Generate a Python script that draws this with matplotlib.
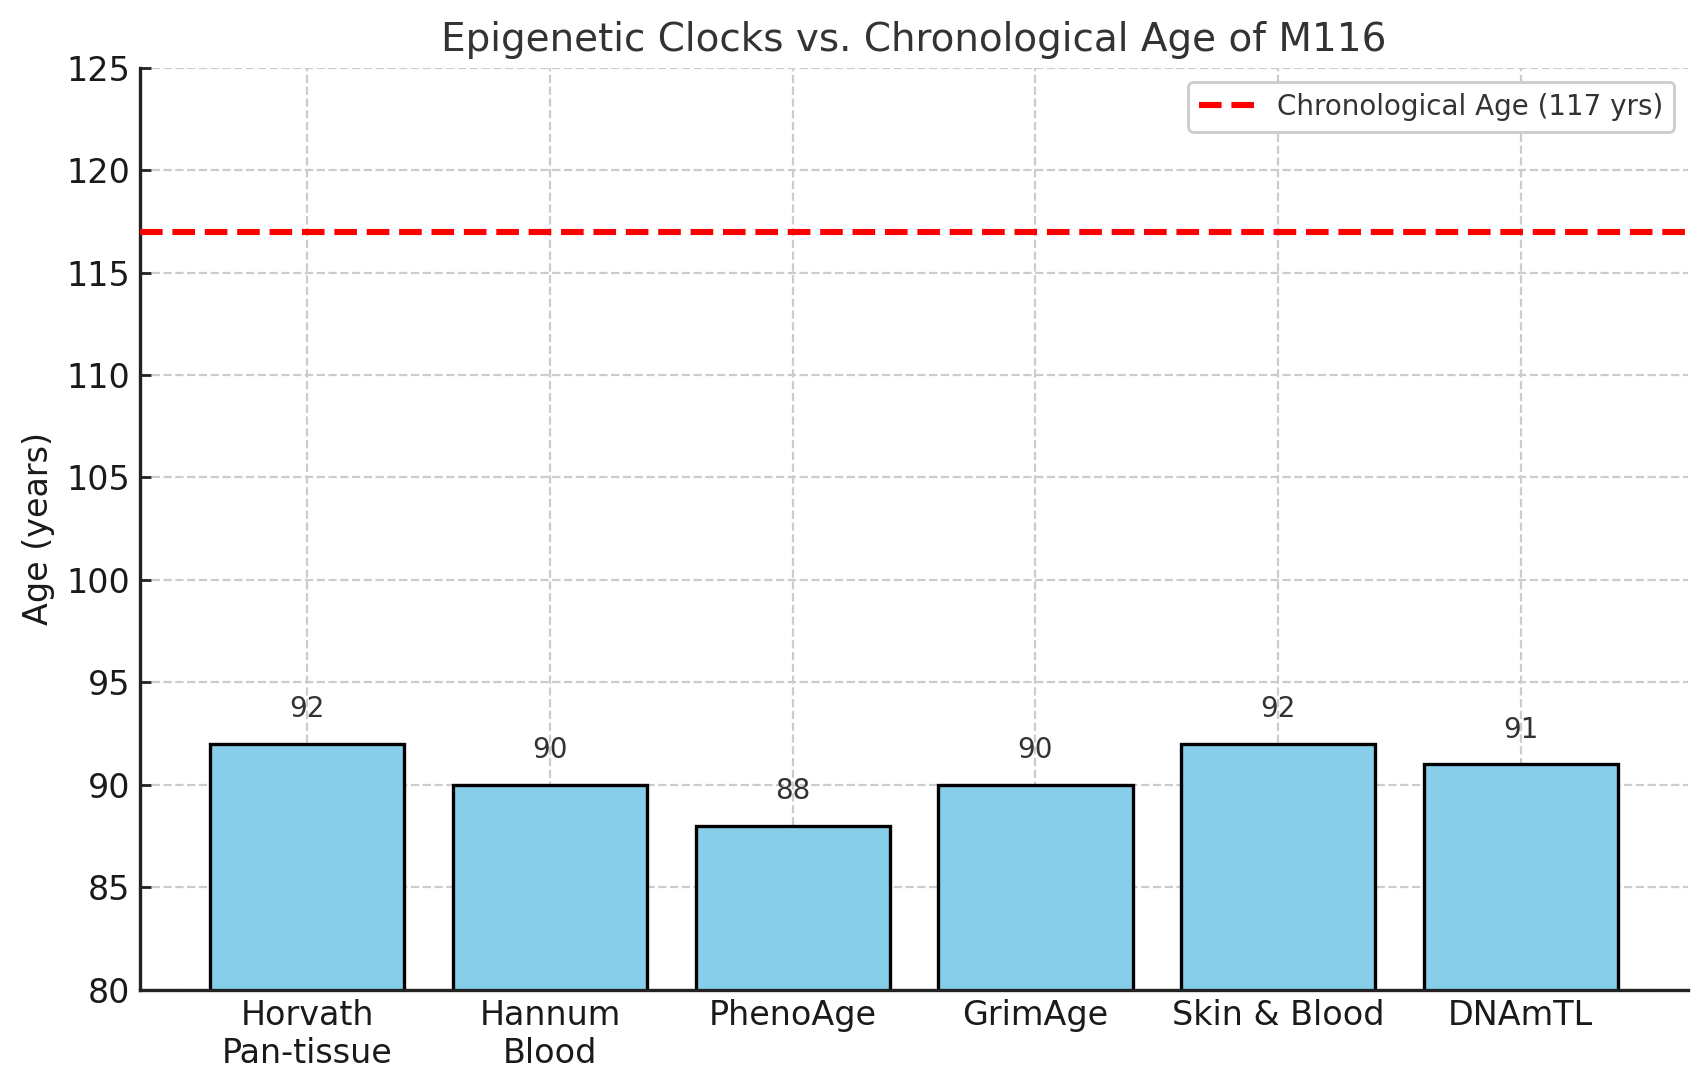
import matplotlib
matplotlib.use("Agg")
import matplotlib.pyplot as plt

clocks = ["Horvath\nPan-tissue", "Hannum\nBlood", "PhenoAge", "GrimAge", "Skin & Blood", "DNAmTL"]
ages = [92, 90, 88, 90, 92, 91]
chrono_age = 117
yticks = [80, 85, 90, 95, 100, 105, 110, 115, 120, 125]

plt.rcParams['font.family'] = ['DejaVu Sans']
fig = plt.figure(figsize=(1707/200, 1091/200), dpi=200)
ax = fig.add_axes([0.082, 0.093, 0.907, 0.845])

x = list(range(len(clocks)))
ax.bar(x, ages, width=0.8, color='skyblue', edgecolor='black', linewidth=1.2, zorder=2)
ax.axhline(chrono_age, color='red', linestyle='--', linewidth=2.2,
           label=f'Chronological Age ({chrono_age} yrs)', zorder=3)
for xi, v in zip(x, ages):
    ax.text(xi, v + 1, str(v), ha='center', va='bottom', fontsize=10, color='#333333', zorder=4)

ax.set_ylim(80, 125)
ax.set_yticks(yticks)
ax.set_xticks(x)
ax.set_xticklabels(clocks, fontsize=12, color='#1a1a1a')
ax.tick_params(axis='y', labelsize=12, labelcolor='#1a1a1a')
ax.tick_params(direction='in', length=4, width=1, color='#222222')
ax.set_ylabel('Age (years)', fontsize=12, color='#1a1a1a')
ax.set_title('Epigenetic Clocks vs. Chronological Age of M116', fontsize=14, color='#333333')
ax.grid(True, linestyle='--', color='#cccccc', linewidth=0.8, zorder=0)
ax.set_axisbelow(True)
for s in ['top', 'right']:
    ax.spines[s].set_visible(False)
for s in ['left', 'bottom']:
    ax.spines[s].set_color('#222222')
    ax.spines[s].set_linewidth(1.2)
leg = ax.legend(loc='upper right', fontsize=10, framealpha=1, edgecolor='#cccccc')
for t in leg.get_texts():
    t.set_color('#333333')

fig.savefig('out.png', dpi=200)
